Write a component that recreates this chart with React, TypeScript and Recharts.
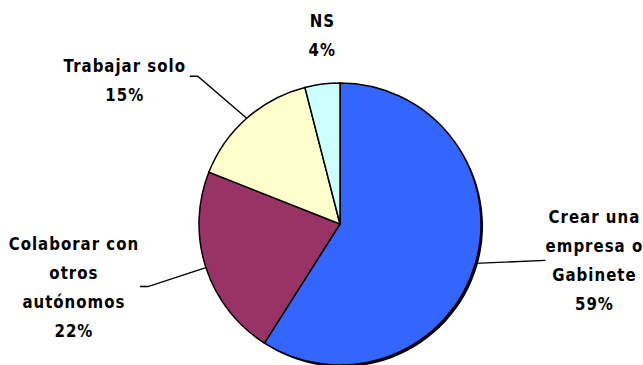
import React from "react";
import { PieChart, Pie, Cell } from "recharts";

const categories = [
  "Crear una empresa o Gabinete",
  "Colaborar con otros autónomos",
  "Trabajar solo",
  "NS",
];
const values = [59, 22, 15, 4];
const labelLines = [
  ["Crear una", "empresa o", "Gabinete"],
  ["Colaborar con", "otros", "autónomos"],
  ["Trabajar solo"],
  ["NS"],
];
const colors = ["#3366FF", "#993366", "#FFFFCC", "#CCFFFF"];

const data = categories.map((name, i) => ({ name, value: values[i] }));

// layout offsets relative to the slice's outer edge point (mid angle)
const LAYOUT = [
  { tx: 119, ty: -3, leader: [[70, -3]] },
  { tx: -132, ty: 20, leader: [[-58, 19], [-66, 19]] },
  { tx: -122, ty: -38, leader: [[-49, -42], [-57, -42]] },
  { tx: 0, ty: -48, leader: [] },
];

const RAD = Math.PI / 180;
const LINE_H = 29;

const renderLabel = (props: any) => {
  const { cx, cy, midAngle, outerRadius, index, percent } = props;
  const ex = cx + outerRadius * Math.cos(-midAngle * RAD);
  const ey = cy + outerRadius * Math.sin(-midAngle * RAD);
  const lay = LAYOUT[index];
  const lines = [...labelLines[index], `${Math.round(percent * 100)}%`];
  const pts = [[ex, ey], ...lay.leader.map(([dx, dy]) => [ex + dx, ey + dy])];
  const tx = ex + lay.tx;
  const ty = ey + lay.ty;
  const first = -((lines.length - 1) * LINE_H) / 2;
  return (
    <g key={`lbl-${index}`}>
      {pts.length > 1 && (
        <polyline
          points={pts.map((p) => p.join(",")).join(" ")}
          fill="none"
          stroke="#000"
          strokeWidth={1.4}
        />
      )}
      {lines.map((t, i) => (
        <g key={i} transform={`translate(${tx},${ty + first + i * LINE_H}) scale(1,1.12)`}>
          <text
            x={0}
            y={0}
            textAnchor="middle"
            dominantBaseline="central"
            fontFamily="'DejaVu Sans', sans-serif"
            fontWeight="bold"
            fontSize={15}
            letterSpacing={1}
            fill="#000"
          >
            {t}
          </text>
        </g>
      ))}
    </g>
  );
};

export default function App() {
  return (
    <div style={{ position: "absolute", left: 0, top: 0, width: 643, height: 365, background: "#fff" }}>
      <PieChart width={643} height={365} margin={{ top: 0, right: 0, bottom: 0, left: 0 }}>
        <Pie
          data={data}
          dataKey="value"
          cx={342}
          cy={226}
          outerRadius={141}
          startAngle={90}
          endAngle={-270}
          stroke="none"
          isAnimationActive={false}
          legendType="none"
        >
          {data.map((d, i) => (
            <Cell key={i} fill="#000" />
          ))}
        </Pie>
        <Pie
          data={data}
          dataKey="value"
          cx={340}
          cy={224}
          outerRadius={141}
          startAngle={90}
          endAngle={-270}
          stroke="#000"
          strokeWidth={1.5}
          isAnimationActive={false}
          labelLine={false}
          label={renderLabel}
        >
          {data.map((d, i) => (
            <Cell key={i} fill={colors[i]} />
          ))}
        </Pie>
      </PieChart>
    </div>
  );
}
